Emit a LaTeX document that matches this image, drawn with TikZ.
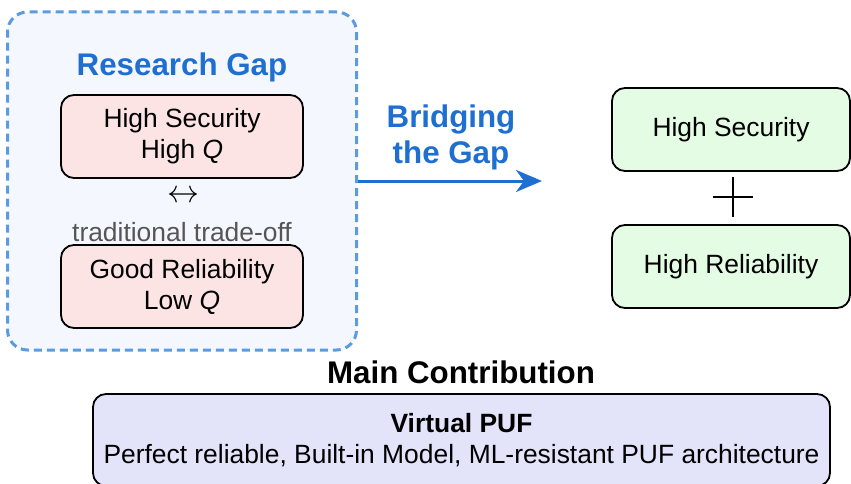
\documentclass[tikz,border=0pt]{standalone}
\usepackage{fontspec}
\setmainfont{Liberation Sans}
\usetikzlibrary{arrows.meta}

\definecolor{gapblue}{RGB}{31,111,208}
\definecolor{dashblue}{RGB}{91,155,224}
\definecolor{panelfill}{RGB}{244,248,254}
\definecolor{pinkfill}{RGB}{253,228,228}
\definecolor{greenfill}{RGB}{228,251,228}
\definecolor{lavfill}{RGB}{227,227,250}
\definecolor{tradegray}{RGB}{85,85,85}

\begin{document}
\begin{tikzpicture}[x=1pt,y=-1pt,
  body/.style={font=\fontsize{26.4}{31}\selectfont},
  heading/.style={font=\fontsize{31.3}{36}\selectfont\bfseries},
  card/.style={draw=black, line width=1.8pt, rounded corners=13pt,
               align=center, inner sep=0pt, body},
  panel/.style={draw=dashblue, fill=panelfill, line width=3pt,
                dash pattern=on 8pt off 5pt, rounded corners=20pt, inner sep=0pt},
  bridge/.style={draw=gapblue, line width=3pt,
                 -{Stealth[length=26pt,width=22pt,inset=8pt]}},
]
\clip (0,0) rectangle (851,484);
\fill[white] (0,0) rectangle (851,484);

% left panel: the research gap
\node[panel, minimum width=349pt, minimum height=338pt] (gap) at (182,181) {};
\node[heading, text=gapblue, anchor=base] (gaptitle) at (182,76) {Research Gap};
\node[card, fill=pinkfill, minimum width=242pt, minimum height=83pt] (sec)
  at (182,136.5) {High Security\\High \textit{Q}};
\node[inner sep=0pt] (tradeoff) at (183,197) {\resizebox{32pt}{!}{$\leftrightarrow$}};
\node[body, text=tradegray, anchor=base] (tradelabel) at (182,241) {traditional trade-off};
\node[card, fill=pinkfill, minimum width=242pt, minimum height=83pt] (rel)
  at (182,286.5) {Good Reliability\\Low \textit{Q}};

% arrow across
\coordinate (tip) at (542,181);
\draw[bridge] (gap.east) -- (tip);
\node[heading, text=gapblue, align=center] (bridgelabel) at (451,137) {Bridging\\the Gap};

% right side: both properties together
\node[card, fill=greenfill, minimum width=238pt, minimum height=83pt] (hsec)
  at (731,129.5) {High Security};
\node[card, fill=greenfill, minimum width=238pt, minimum height=83pt] (hrel)
  at (731,266.5) {High Reliability};
\coordinate (plus) at (733,197);
\draw[line width=2pt] (plus) ++(-20,0) -- ++(40,0);
\draw[line width=2pt] (plus) ++(0,-20) -- ++(0,40);

% bottom: the contribution
\node[heading, anchor=base] (maintitle) at (461,383) {Main Contribution};
\node[card, fill=lavfill, minimum width=737pt, minimum height=92pt] (vpuf)
  at (461.5,440) {\textbf{Virtual PUF}\\Perfect reliable, Built-in Model, ML-resistant PUF architecture};
\end{tikzpicture}
\end{document}
